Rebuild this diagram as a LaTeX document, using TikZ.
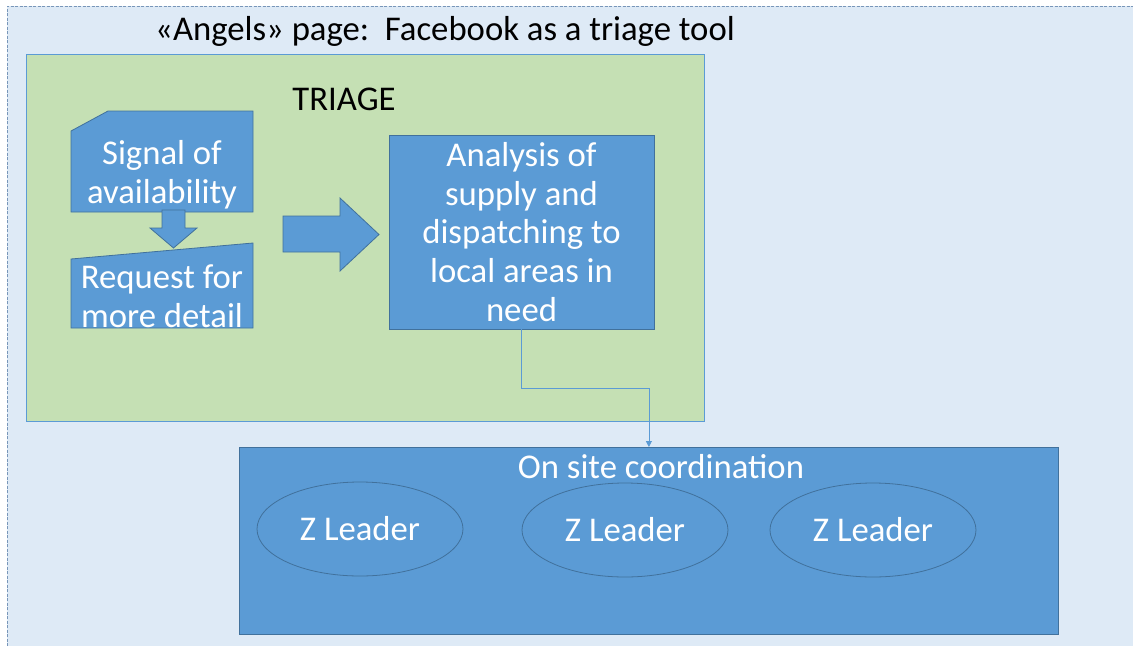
\documentclass[tikz,border=0pt]{standalone}
\usepackage{fontspec}
\setmainfont{Carlito}
\usetikzlibrary{arrows.meta,shapes.geometric}

\definecolor{pagebg}{RGB}{222,234,246}
\definecolor{triagebg}{RGB}{197,224,180}
\definecolor{boxblue}{RGB}{91,155,213}
\definecolor{boxedge}{RGB}{65,113,156}
\definecolor{frameedge}{RGB}{120,150,185}

\tikzset{
  bigtext/.style={font=\fontsize{34.7}{38.6}\selectfont, align=center, inner sep=0pt},
  whitetext/.style={bigtext, text=white},
  blueshape/.style={fill=boxblue, draw=boxedge, line width=0.8pt},
  leader/.style={ellipse, draw=boxedge, line width=0.8pt, minimum width=206pt,
                 minimum height=94pt, whitetext},
  flowline/.style={draw=boxblue, line width=0.8pt, -{Triangle[length=6pt,width=6pt]}},
}

\begin{document}
\begin{tikzpicture}[x=1pt,y=-1pt]
\useasboundingbox (0,0) rectangle (1133,646);

% page background with dashed frame
\fill[pagebg] (7,6) rectangle (1133,646);
\draw[frameedge, line width=0.8pt, dash pattern=on 3pt off 1.5pt] (7,646) -- (7,6) -- (1133,6);

\node[bigtext] (title) at (445,31) {«Angels» page:\ \ Facebook as a triage tool};

% triage area
\node[draw=boxblue, line width=0.8pt, fill=triagebg, minimum width=678pt, minimum height=367pt,
      anchor=north west, inner sep=0pt] (triage) at (26,54) {};
\node[bigtext] (triagelabel) at (344,99) {TRIAGE};

% signal of availability (snipped corner card)
\path[blueshape] (71,131) -- (108,111) -- (253,111) -- (253,212) -- (71,212) -- cycle;
\node[whitetext] (signal) at (162,175) {Signal of\\availability};

% small down arrow
\path[blueshape] (162,210) -- (185,210) -- (185,228) -- (197,228) -- (173.5,248)
  -- (150,228) -- (162,228) -- cycle;

% request for more detail (manual input shape)
\path[blueshape] (71,259) -- (253,243) -- (253,328) -- (71,328) -- cycle;
\node[whitetext] (request) at (162,296) {Request for\\more detail};

% big right arrow
\path[blueshape] (283,216) -- (340,216) -- (340,198) -- (379,234.5) -- (340,271)
  -- (340,252) -- (283,252) -- cycle;

% analysis box
\node[blueshape, whitetext, minimum width=265pt, minimum height=194pt] (analysis)
  at (521.5,232) {Analysis of\\supply and\\dispatching to\\local areas in\\need};

% on-site coordination
\node[blueshape, minimum width=819pt, minimum height=187pt, anchor=north west, inner sep=0pt]
  (onsite) at (239,447) {};
\node[whitetext] (onsitelabel) at (661,467) {On site coordination};

\node[leader] (z1) at (360,529) {Z Leader};
\node[leader] (z2) at (625,530) {Z Leader};
\node[leader] (z3) at (873,530) {Z Leader};

% dispatch connector
\draw[flowline] (analysis.south) -- ++(0,59) -| (onsite.north);
\end{tikzpicture}
\end{document}
